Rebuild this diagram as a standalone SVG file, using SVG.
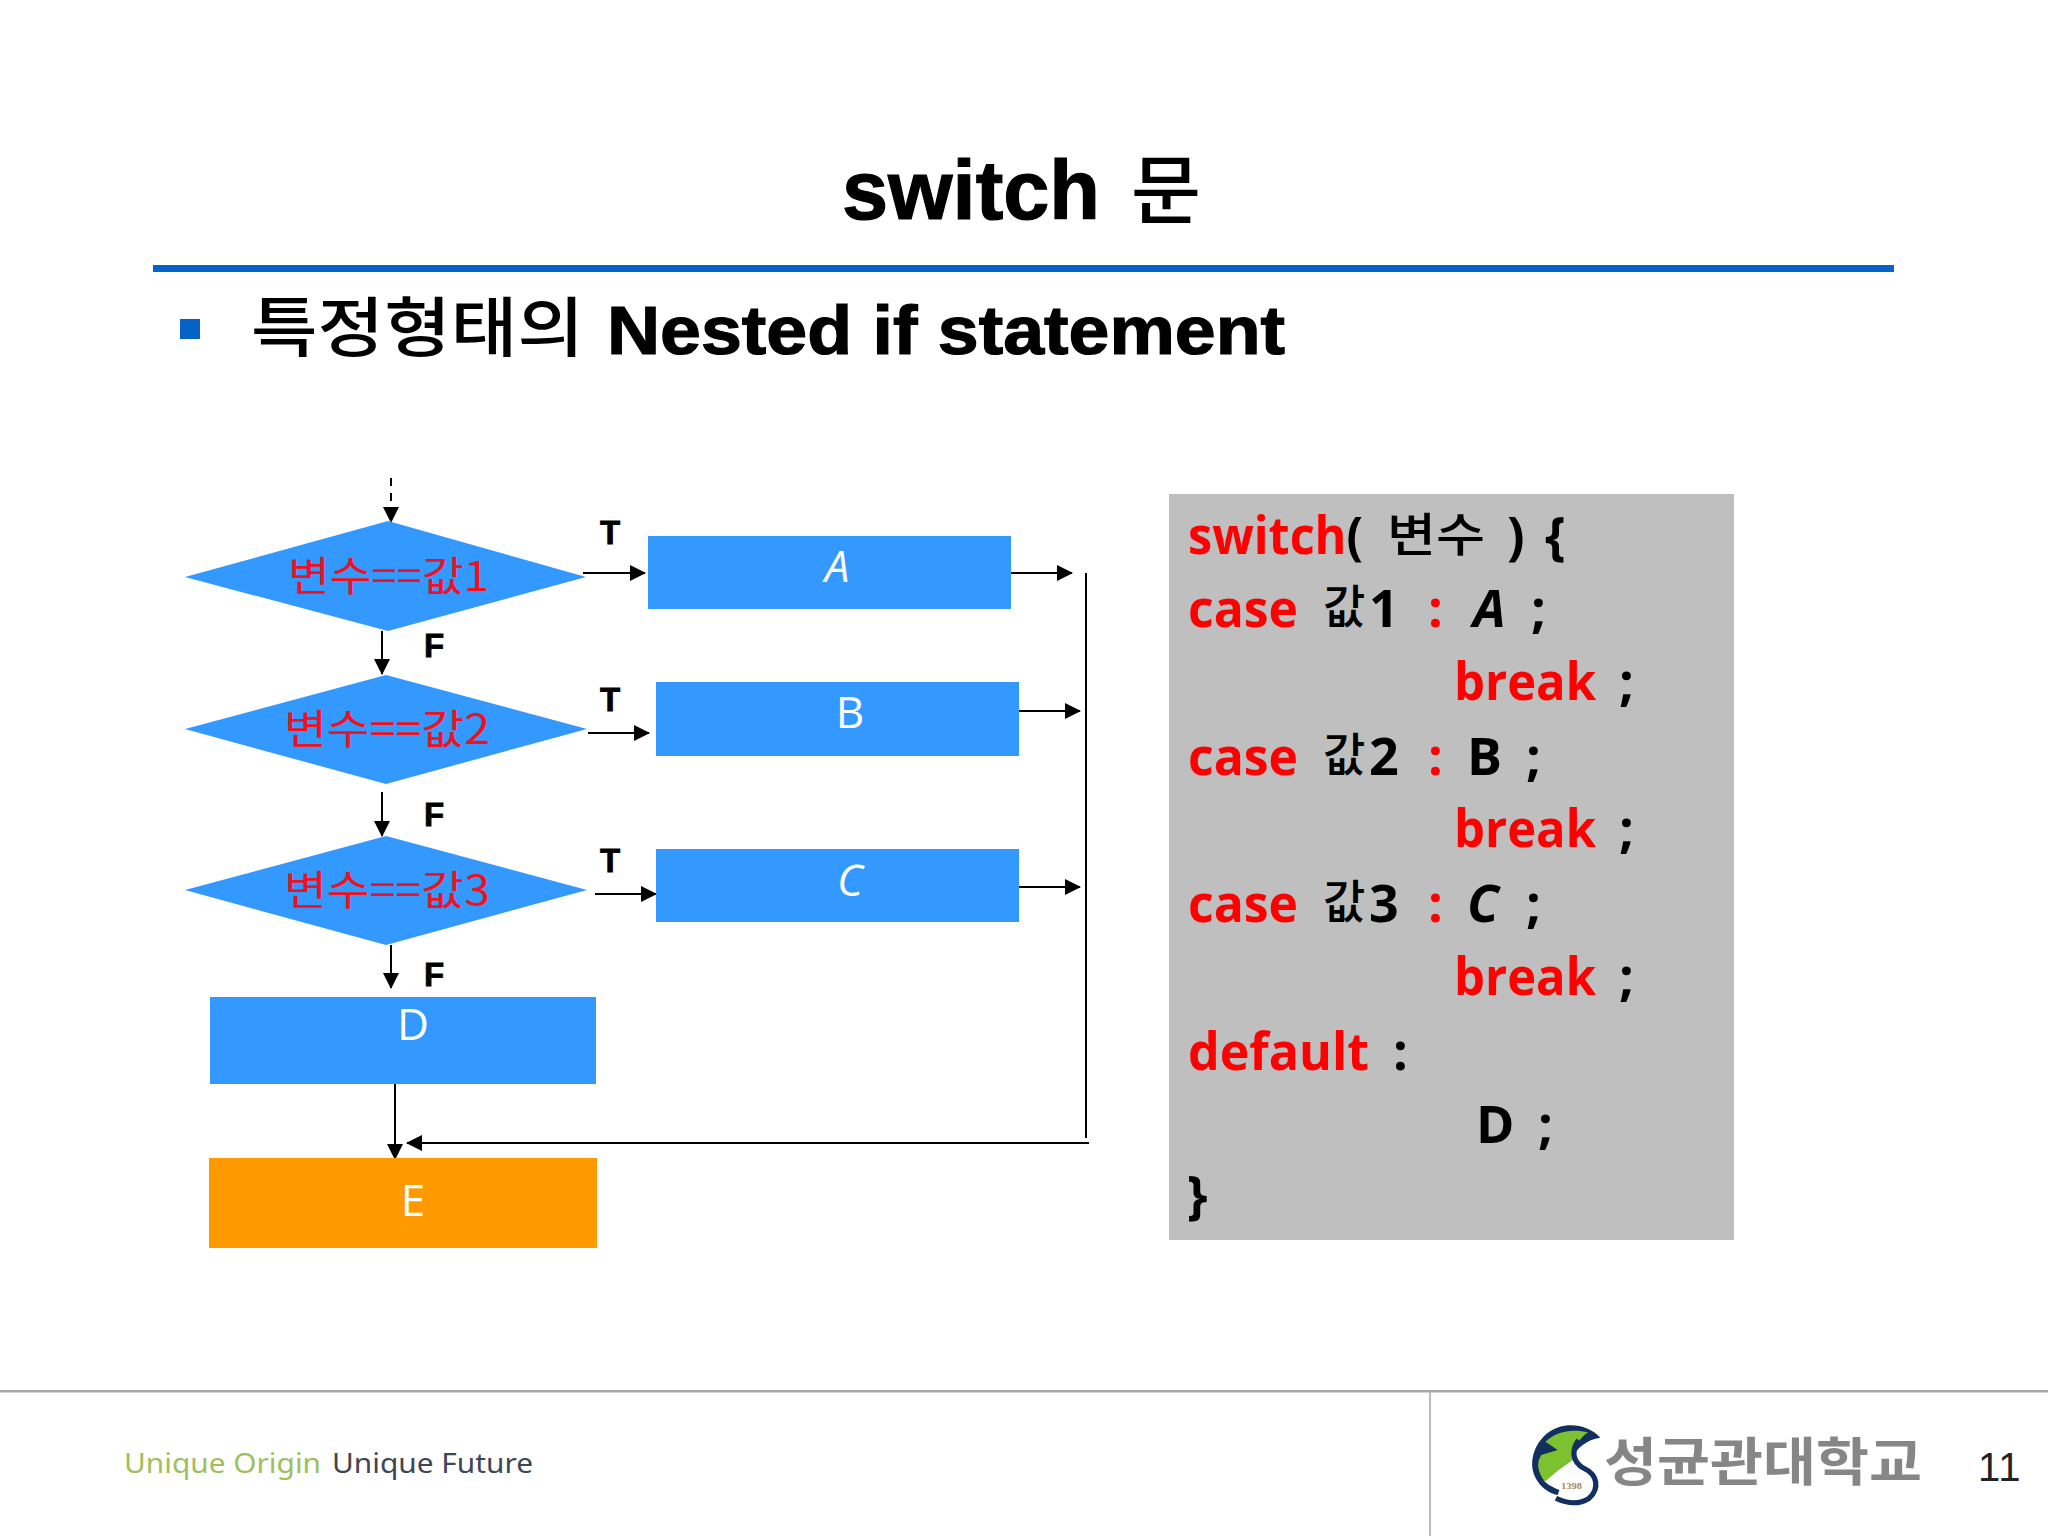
<svg xmlns="http://www.w3.org/2000/svg" width="2048" height="1536" viewBox="0 0 2048 1536">
<style>
.box{fill:#3399FF}
.orange{fill:#FF9900}
.dia{fill:#3399FF}
.ln{stroke:#000;stroke-width:2;fill:none}
.cond{font-family:"Noto Sans CJK KR","Noto Sans",sans-serif;font-size:41px;fill:#F01020;font-weight:400}
.lbl{font-family:"Open Sans","Noto Sans",sans-serif;font-size:44px;fill:#fff;text-anchor:middle}
.tf{font-family:"Liberation Sans",sans-serif;font-weight:700;font-size:33px;fill:#000;stroke:#000;stroke-width:.8;text-anchor:middle}
.c{font-family:"Open Sans","Noto Sans CJK KR",sans-serif;font-weight:700;font-size:52px}
.k{font-family:"Noto Sans CJK KR",sans-serif;font-weight:500;font-size:46px;fill:#000}
.r{fill:#FF0000}
.b{fill:#000}
.hv{stroke:#000;stroke-width:1.2}
</style>
<defs>
<marker id="ah" viewBox="0 0 16 16" refX="15" refY="8" markerWidth="16" markerHeight="16" markerUnits="userSpaceOnUse" orient="auto"><path d="M0 0L16 8L0 16Z" fill="#000"/></marker>
</defs>
<rect width="2048" height="1536" fill="#fff"/>
<g id="header">
<text class="hv" x="842" y="219" font-family="Liberation Sans,sans-serif" font-weight="700" font-size="84" textLength="258" lengthAdjust="spacingAndGlyphs">switch</text>
<text x="1131" y="218" font-family="Noto Sans CJK KR,sans-serif" font-size="76" font-weight="500">문</text>
<rect x="153" y="265" width="1741" height="7" fill="#0563C8"/>
<rect x="180" y="319" width="20" height="20" fill="#0563C8"/>
<text x="251" y="351" font-family="Noto Sans CJK KR,sans-serif" font-size="65" font-weight="500" textLength="333" lengthAdjust="spacingAndGlyphs">특정형태의</text>
<text class="hv" x="607" y="354" font-family="Liberation Sans,sans-serif" font-weight="700" font-size="69" textLength="678" lengthAdjust="spacingAndGlyphs">Nested if statement</text>
</g>
<g id="connectors">
<path class="ln" d="M391 478V522" stroke-dasharray="8 7" marker-end="url(#ah)"/>
<path class="ln" d="M583 573H645" marker-end="url(#ah)"/>
<path class="ln" d="M588 733H649" marker-end="url(#ah)"/>
<path class="ln" d="M595 894H656" marker-end="url(#ah)"/>
<path class="ln" d="M1011 573H1072" marker-end="url(#ah)"/>
<path class="ln" d="M1019 711H1080" marker-end="url(#ah)"/>
<path class="ln" d="M1019 887H1080" marker-end="url(#ah)"/>
<path class="ln" d="M382 631V674" marker-end="url(#ah)"/>
<path class="ln" d="M382 792V836" marker-end="url(#ah)"/>
<path class="ln" d="M391 945V988" marker-end="url(#ah)"/>
<path class="ln" d="M1086 573V1138" stroke="#333"/>
<path class="ln" d="M1089 1143H407" marker-end="url(#ah)"/>
<path class="ln" d="M395 1079V1159" marker-end="url(#ah)"/>
</g>
<g id="d1"><polygon class="dia" points="388,521 586,577 388,631 185,577"/><text class="cond" x="288" y="591" textLength="201" lengthAdjust="spacingAndGlyphs">변수==값1</text></g>
<g id="d2"><polygon class="dia" points="386,675 587,729 386,784 185,729"/><text class="cond" x="284" y="744" textLength="206" lengthAdjust="spacingAndGlyphs">변수==값2</text></g>
<g id="d3"><polygon class="dia" points="386,836 587,890 386,945 185,890"/><text class="cond" x="284" y="905" textLength="206" lengthAdjust="spacingAndGlyphs">변수==값3</text></g>
<g id="a"><rect class="box" x="648" y="536" width="363" height="73"/><text class="lbl" x="837" y="582" font-style="italic">A</text></g>
<g id="b"><rect class="box" x="656" y="682" width="363" height="74"/><text class="lbl" x="850" y="728">B</text></g>
<g id="c"><rect class="box" x="656" y="849" width="363" height="73"/><text class="lbl" x="850" y="896" font-style="italic">C</text></g>
<g id="d"><rect class="box" x="210" y="997" width="386" height="87"/><text class="lbl" x="413" y="1040">D</text></g>
<g id="e"><rect class="orange" x="209" y="1158" width="388" height="90"/><text class="lbl" x="413" y="1216">E</text></g>
<g id="labels">
<text class="tf" x="610" y="544">T</text>
<text class="tf" x="610" y="711">T</text>
<text class="tf" x="610" y="872">T</text>
<text class="tf" x="434" y="657">F</text>
<text class="tf" x="434" y="826">F</text>
<text class="tf" x="434" y="986">F</text>
</g>
<g id="code">
<rect x="1169" y="494" width="565" height="746" fill="#C0BFC0"/>
<text class="c b" x="1188" y="554" textLength="175" lengthAdjust="spacingAndGlyphs"><tspan class="r">switch</tspan>(</text>
<text class="k" x="1387" y="551" textLength="98" lengthAdjust="spacingAndGlyphs">변수</text>
<text class="c b" x="1507" y="554">)</text>
<text class="c b" x="1545" y="554">{</text>

<text class="c r" x="1188" y="627" textLength="110" lengthAdjust="spacingAndGlyphs">case</text>
<text class="k" x="1323" y="623">값</text>
<text class="c b" x="1369" y="627" font-size="50">1</text>
<text class="c r" x="1428" y="627">:</text>
<text class="c b" x="1473" y="627" font-style="italic" font-size="50">A</text>
<text class="c b" x="1531" y="627">;</text>
<text class="c r" x="1454" y="700" textLength="142" lengthAdjust="spacingAndGlyphs">break</text>
<text class="c b" x="1619" y="700">;</text>

<text class="c r" x="1188" y="775" textLength="110" lengthAdjust="spacingAndGlyphs">case</text>
<text class="k" x="1323" y="771">값</text>
<text class="c b" x="1369" y="775" font-size="50">2</text>
<text class="c r" x="1428" y="775">:</text>
<text class="c b" x="1467" y="775" font-size="50">B</text>
<text class="c b" x="1526" y="775">;</text>
<text class="c r" x="1454" y="847" textLength="142" lengthAdjust="spacingAndGlyphs">break</text>
<text class="c b" x="1619" y="847">;</text>

<text class="c r" x="1188" y="922" textLength="110" lengthAdjust="spacingAndGlyphs">case</text>
<text class="k" x="1323" y="918">값</text>
<text class="c b" x="1369" y="922" font-size="50">3</text>
<text class="c r" x="1428" y="922">:</text>
<text class="c b" x="1467" y="922" font-style="italic" font-size="50">C</text>
<text class="c b" x="1526" y="922">;</text>
<text class="c r" x="1454" y="995" textLength="142" lengthAdjust="spacingAndGlyphs">break</text>
<text class="c b" x="1619" y="995">;</text>

<text class="c r" x="1188" y="1070" textLength="181" lengthAdjust="spacingAndGlyphs">default</text>
<text class="c b" x="1393" y="1070">:</text>
<text class="c b" x="1476" y="1143" font-size="50">D</text>
<text class="c b" x="1538" y="1143">;</text>
<text class="c b" x="1187" y="1213">}</text>
</g>
<g id="footer">
<rect x="0" y="1390" width="2048" height="2.5" fill="#A8A8A8"/>
<rect x="1429" y="1392" width="2" height="144" fill="#BBBBBB"/>
<text x="124" y="1473" font-family="Noto Sans,sans-serif" font-size="28" fill="#A0BE5E" textLength="197" lengthAdjust="spacingAndGlyphs">Unique Origin</text>
<text x="332" y="1473" font-family="Noto Sans,sans-serif" font-size="28" fill="#3F4653" textLength="201" lengthAdjust="spacingAndGlyphs">Unique Future</text>
<g id="logo" transform="translate(1500 1400) scale(.3495 .3333)">
<path d="M287 113C250 70 180 62 135 100C95 135 82 190 100 230C115 262 140 280 165 285L170 270C150 262 130 250 125 240L205 180C215 145 250 118 287 113Z" fill="#12305F"/>
<path d="M252 97C205 85 160 95 130 125L165 150L118 165C103 190 108 215 128 245L168 210L208 180C208 150 225 115 252 97Z" fill="#7EC130"/>
<path d="M225 120C205 150 205 185 240 205C280 225 285 265 255 295C225 315 190 310 160 295" fill="none" stroke="#12305F" stroke-width="15"/>
</g>
<text x="1561" y="1489" font-family="Liberation Serif,serif" font-size="9" font-weight="700" fill="#A08A60" textLength="21" lengthAdjust="spacingAndGlyphs">1398</text>
<text x="1604" y="1481" font-family="Noto Sans CJK KR,sans-serif" font-weight="700" font-size="52" fill="#868686" textLength="318" lengthAdjust="spacingAndGlyphs">성균관대학교</text>
<text x="1978" y="1481" font-family="Liberation Sans,sans-serif" font-size="40" fill="#222" letter-spacing="1">11</text>
</g>
</svg>
